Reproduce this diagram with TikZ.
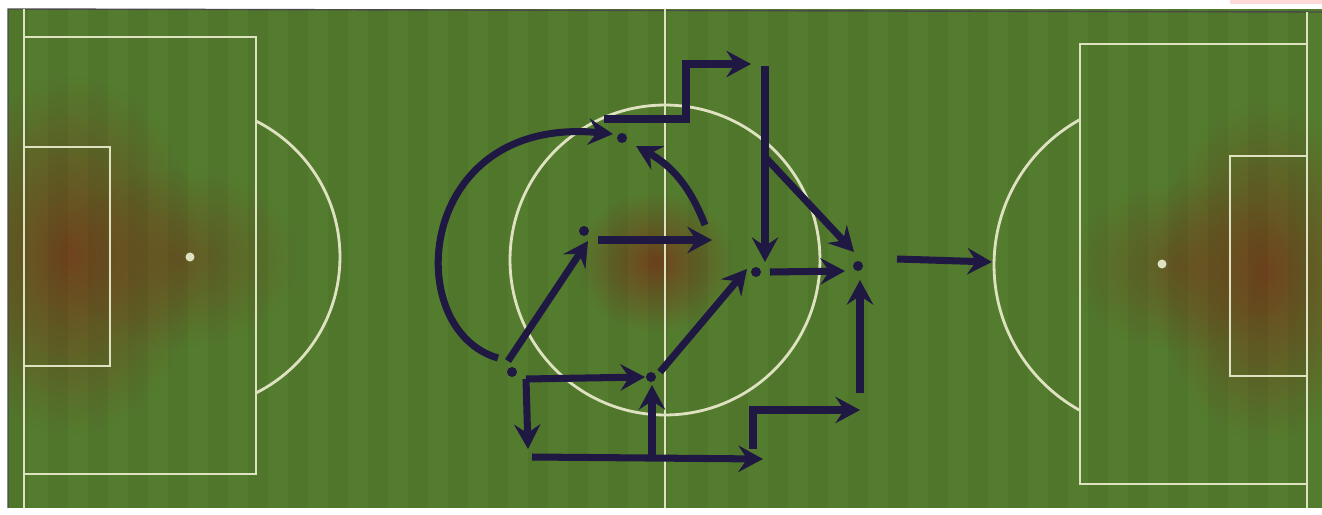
\documentclass[tikz,border=0pt]{standalone}
\usetikzlibrary{arrows.meta,fadings}
\definecolor{Turf}{RGB}{84,124,46}
\definecolor{Soil}{RGB}{112,68,30}
\definecolor{Chalk}{RGB}{222,226,192}
\definecolor{Ink}{RGB}{30,24,66}
\tikzfading[name=SoilFade,inner color=transparent!0,outer color=transparent!100]
\begin{document}
\begin{tikzpicture}[x=0.02cm,y=-0.02cm,
        PitchLine/.style={draw=Chalk,line width=1.6pt},
        SoilPatch/.style={fill=Soil,path fading=SoilFade},
        RunArrow/.style={draw=Ink,line width=4pt,-{Stealth[length=14pt,width=15pt,inset=5pt]}},
        Player/.style={circle,fill=Ink,inner sep=0pt,minimum size=0.2cm}]
                \useasboundingbox (0,0) rectangle (1322,514);
                \fill[white] (0,0) rectangle (1322,514);
                \fill[red!30,opacity=.5] (1230,0) rectangle (1322,4);
                \fill[Turf] (8,9) rectangle (1322,508);
                \draw[black!70,line width=0.8pt] (8,508) -- (8,9) -- (1322,12);

                \begin{scope}
                    \clip (8,9) rectangle (1322,508);
                    \fill[SoilPatch] (70,255) ellipse[x radius=2.6cm,y radius=3.6cm];
                    \fill[SoilPatch,opacity=.6] (180,258) ellipse[x radius=2.4cm,y radius=1.8cm];
                    \fill[SoilPatch] (655,262) ellipse[x radius=1.6cm,y radius=1.4cm];
                    \fill[SoilPatch] (1265,272) ellipse[x radius=2.2cm,y radius=3.4cm];
                    \fill[SoilPatch,opacity=.6] (1180,266) ellipse[x radius=2.2cm,y radius=1.7cm];
                \end{scope}
                \foreach \s in {8,48,...,1300}
                    \fill[black,opacity=.045] (\s,9) rectangle ++(20,499);

                \draw[PitchLine] (24,9) -- (24,508);
                \draw[PitchLine] (24,37) -| (256,474) -- (24,474);
                \draw[PitchLine] (24,147) -| (110,366) -- (24,366);
                \fill[Chalk] (190,257) circle[radius=0.09cm];
                \begin{scope}
                    \clip (256,9) rectangle (600,508);
                    \draw[PitchLine] (188,257) circle[radius=3.04cm];
                \end{scope}
                \draw[PitchLine] (665,9) -- (665,508);
                \draw[PitchLine] (665,260) circle[radius=3.1cm];
                \draw[PitchLine] (1307,12) -- (1307,508);
                \draw[PitchLine] (1307,44) -| (1080,484) -- (1307,484);
                \draw[PitchLine] (1307,156) -| (1230,376) -- (1307,376);
                \fill[Chalk] (1162,264) circle[radius=0.09cm];
                \begin{scope}
                    \clip (700,9) rectangle (1080,508);
                    \draw[PitchLine] (1160,265) circle[radius=3.32cm];
                \end{scope}

                \node[Player] (PlayerA) at (512,372) {};
                \node[Player] (PlayerB) at (584,231) {};
                \node[Player] (PlayerC) at (622,138) {};
                \node[Player] (PlayerD) at (651,377) {};
                \node[Player] (PlayerE) at (756,272) {};
                \node[Player] (PlayerF) at (858,266) {};

                \coordinate (ArcStart) at (498,358);
                \coordinate (ArcEnd) at (613,134);
                \coordinate (AUp) at (508,361);
                \coordinate (BIn) at (588,241);
                \coordinate (BOut) at (598,240);
                \coordinate (BRight) at (712,240);
                \coordinate (CurveStart) at (705,225);
                \coordinate (CIn) at (636,146);
                \coordinate (UpperStepStart) at (604,119);
                \coordinate (UpperStepKnee) at (686,64);
                \coordinate (UpperStepTip) at (751,64);
                \coordinate (DropTop) at (765,66);
                \coordinate (DropBranch) at (765,157);
                \coordinate (EIn) at (765,262);
                \coordinate (FInDiag) at (854,252);
                \coordinate (EOut) at (770,272);
                \coordinate (FInLeft) at (845,271);
                \coordinate (DOut) at (660,372);
                \coordinate (EInDiag) at (747,269);
                \coordinate (LowerStart) at (526,379);
                \coordinate (DInLeft) at (645,377);
                \coordinate (LowerDrop) at (528,449);
                \coordinate (BottomStart) at (532,457);
                \coordinate (BottomTip) at (763,459);
                \coordinate (DUpStart) at (652,455);
                \coordinate (DInBelow) at (652,385);
                \coordinate (RightStepStart) at (753,449);
                \coordinate (RightStepTip) at (860,410);
                \coordinate (FUpStart) at (860,393);
                \coordinate (FInBelow) at (860,280);
                \coordinate (FOut) at (897,259);
                \coordinate (AttackTip) at (992,262);

                \draw[RunArrow] (ArcStart) .. controls (400,330) and (415,115) .. (ArcEnd);
                \draw[RunArrow] (AUp) -- (BIn);
                \draw[RunArrow] (BOut) -- (BRight);
                \draw[RunArrow] (CurveStart) to[bend right=20] (CIn);
                \draw[RunArrow] (UpperStepStart) -| (UpperStepKnee) -- (UpperStepTip);
                \draw[RunArrow] (DropTop) -- (EIn);
                \draw[RunArrow] (DropBranch) -- (FInDiag);
                \draw[RunArrow] (EOut) -- (FInLeft);
                \draw[RunArrow] (DOut) -- (EInDiag);
                \draw[RunArrow] (LowerStart) -- (DInLeft);
                \draw[RunArrow] (LowerStart) -- (LowerDrop);
                \draw[RunArrow] (BottomStart) -- (BottomTip);
                \draw[RunArrow] (DUpStart) -- (DInBelow);
                \draw[RunArrow] (RightStepStart) |- (RightStepTip);
                \draw[RunArrow] (FUpStart) -- (FInBelow);
                \draw[RunArrow] (FOut) -- (AttackTip);
            \end{tikzpicture}
\end{document}
